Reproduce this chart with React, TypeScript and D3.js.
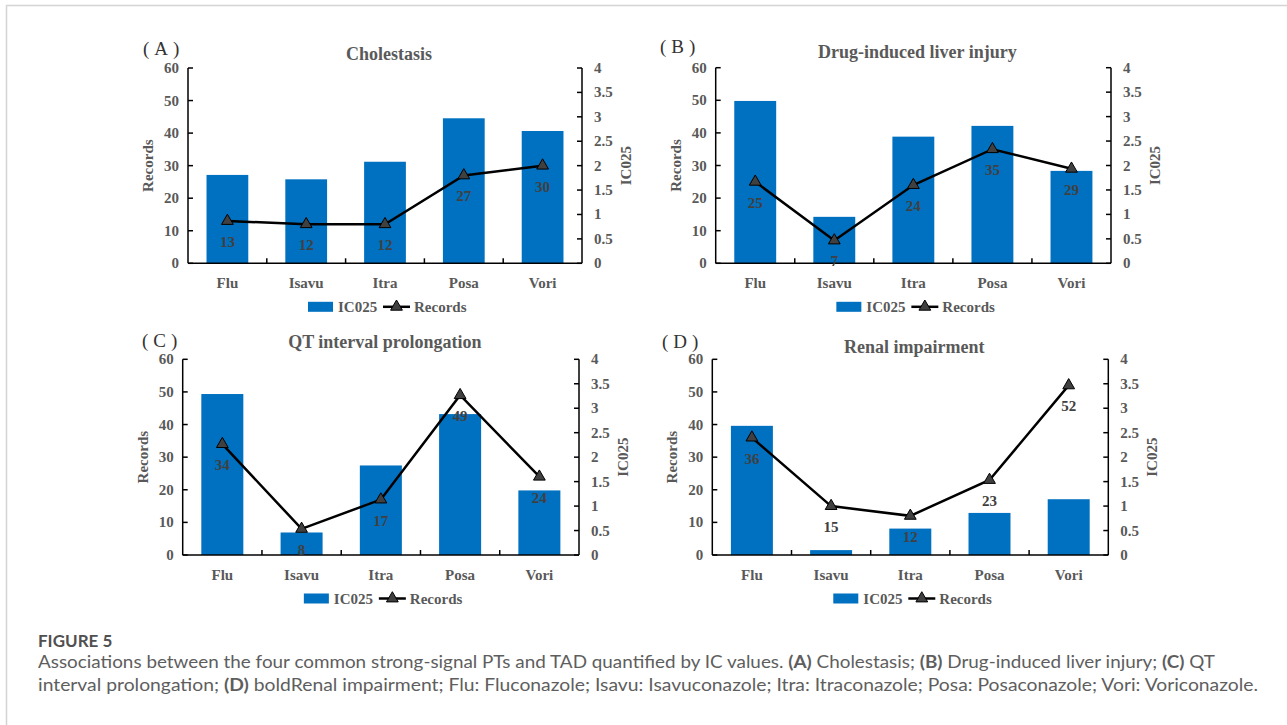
import React from 'react';
import * as d3 from 'd3';

// drugs on the x axis
const categories = ['Flu', 'Isavu', 'Itra', 'Posa', 'Vori'];

// IC025 (bars, right axis) and record counts (line, left axis) per panel
const icCholestasis = [1.81, 1.72, 2.08, 2.97, 2.71];
const recCholestasis = [13, 12, 12, 27, 30];
const icLiver = [3.32, 0.95, 2.59, 2.81, 1.89];
const recLiver = [25, 7, 24, 35, 29];
const icQt = [3.29, 0.46, 1.83, 2.88, 1.32];
const recQt = [34, 8, 17, 49, 24];
const icRenal = [2.64, 0.1, 0.54, 0.86, 1.14];
const recRenal = [36, 15, 12, 23, 52];

const panelLetters = ['A', 'B', 'C', 'D'];
const panelTitles = ['Cholestasis', 'Drug-induced liver injury', 'QT interval prolongation', 'Renal impairment'];

const recordTicks = [0, 10, 20, 30, 40, 50, 60];
const icTicks = [0, 0.5, 1, 1.5, 2, 2.5, 3, 3.5, 4];

const SERIF = "'Liberation Serif', 'Times New Roman', serif";
const GREY = '#595959';
const BLUE = '#0070C0';

const panels = [
  { ic: icCholestasis, rec: recCholestasis, left: 188, right: 582, top: 68, bottom: 263.3, titleY: 54, tagX: 143, tagY: 48 },
  { ic: icLiver, rec: recLiver, left: 715.7, right: 1111, top: 67.7, bottom: 263.3, titleY: 52, tagX: 660, tagY: 46 },
  { ic: icQt, rec: recQt, left: 182.7, right: 579, top: 359.3, bottom: 555, titleY: 342, tagX: 142, tagY: 340 },
  { ic: icRenal, rec: recRenal, left: 712.3, right: 1108.3, top: 359.3, bottom: 555, titleY: 347, tagX: 662, tagY: 341 },
];

const triangle = d3.symbol().type(d3.symbolTriangle).size(60);

function Panel({ p, idx }) {
  const x = d3.scaleBand().domain(categories).range([p.left, p.right]).paddingInner(0.47).paddingOuter(0.235);
  const yRec = d3.scaleLinear().domain([0, 60]).range([p.bottom, p.top]);
  const yIc = d3.scaleLinear().domain([0, 4]).range([p.bottom, p.top]);
  const cx = (c) => x(c) + x.bandwidth() / 2;
  const line = d3.line().x((d, i) => cx(categories[i])).y((d) => yRec(d));
  const mid = (p.left + p.right) / 2;
  const step = x.step();
  const boundaries = d3.range(1, categories.length).map((i) => p.left + step * i);

  return (
    <g>
      <text x={p.tagX} y={p.tagY} dominantBaseline="central" fontFamily={SERIF} fontSize={19} fill="#333">
        (<tspan dx={5}>{panelLetters[idx]}</tspan><tspan dx={5}>)</tspan>
      </text>
      <text x={mid + 4} y={p.titleY} dominantBaseline="central" textAnchor="middle" fontFamily={SERIF} fontWeight="bold" fontSize={18} fill={GREY}>
        {panelTitles[idx]}
      </text>

      {categories.map((c, i) => (
        <rect key={c} x={x(c)} y={yIc(p.ic[i])} width={x.bandwidth()} height={p.bottom - yIc(p.ic[i])} fill={BLUE} />
      ))}

      {/* axes */}
      <g stroke="#000" strokeWidth={1.5} fill="none">
        <line x1={p.left} x2={p.left} y1={p.top} y2={p.bottom} />
        <line x1={p.right} x2={p.right} y1={p.top} y2={p.bottom} />
        <line x1={p.left} x2={p.right} y1={p.bottom} y2={p.bottom} />
        {recordTicks.map((t) => (
          <line key={'l' + t} x1={p.left} x2={p.left + 5} y1={yRec(t)} y2={yRec(t)} />
        ))}
        {icTicks.map((t) => (
          <line key={'r' + t} x1={p.right - 5} x2={p.right} y1={yIc(t)} y2={yIc(t)} />
        ))}
        {boundaries.map((bx) => (
          <line key={'b' + bx} x1={bx} x2={bx} y1={p.bottom} y2={p.bottom - 5} />
        ))}
      </g>

      <g fontFamily={SERIF} fontWeight="bold" fontSize={15} fill={GREY}>
        {recordTicks.map((t) => (
          <text key={'lt' + t} x={p.left - 9} y={yRec(t)} textAnchor="end" dominantBaseline="central">{t}</text>
        ))}
        {icTicks.map((t) => (
          <text key={'rt' + t} x={p.right + 12} y={yIc(t)} dominantBaseline="central">{t}</text>
        ))}
        {categories.map((c) => (
          <text key={'xt' + c} x={cx(c)} y={p.bottom + 20} textAnchor="middle" dominantBaseline="central">{c}</text>
        ))}
        <text transform={`translate(${p.left - 40},${(p.top + p.bottom) / 2}) rotate(-90)`} textAnchor="middle" dominantBaseline="central">Records</text>
        <text transform={`translate(${p.right + 44},${(p.top + p.bottom) / 2}) rotate(-90)`} textAnchor="middle" dominantBaseline="central">IC025</text>
      </g>

      <path d={line(p.rec)} fill="none" stroke="#000" strokeWidth={2.5} />
      {p.rec.map((v, i) => (
        <path key={'m' + i} d={triangle()} transform={`translate(${cx(categories[i])},${yRec(v)})`} fill="#404040" stroke="#000" strokeWidth={1} />
      ))}
      {p.rec.map((v, i) => (
        <text key={'dl' + i} x={cx(categories[i])} y={yRec(v) + 21} textAnchor="middle" dominantBaseline="central" fontFamily={SERIF} fontWeight="bold" fontSize={15} fill="#404040">
          {v}
        </text>
      ))}

      {/* legend */}
      <g transform={`translate(${mid - 77},${p.bottom + 43.5})`} fontFamily={SERIF} fontWeight="bold" fontSize={15} fill={GREY}>
        <rect x={0} y={-5} width={25} height={10} fill={BLUE} />
        <text x={30} y={0} dominantBaseline="central">IC025</text>
        <line x1={75} x2={102} y1={0} y2={0} stroke="#000" strokeWidth={2.5} />
        <path d={triangle()} transform="translate(88.5,0)" fill="#404040" stroke="#000" strokeWidth={1} />
        <text x={106} y={0} dominantBaseline="central">Records</text>
      </g>
    </g>
  );
}

export default function App() {
  const sans = "Lato, 'Open Sans', sans-serif";
  return (
    <div style={{ position: 'absolute', left: 0, top: 0 }}>
      <svg width={1287} height={725} style={{ display: 'block', background: '#fff' }}>
        <rect x={6.5} y={5.5} width={1300} height={740} fill="none" stroke="#d4d4d4" strokeWidth={1.5} />
        {panels.map((p, i) => (
          <Panel key={i} p={p} idx={i} />
        ))}
        <text x={38} y={647} fontFamily={sans} fontWeight="bold" fontSize={17} fill="#505050">FIGURE 5</text>
        <text x={38} y={668} fontFamily={sans} fontSize={16.5} fill="#5e5e5e" textLength={1177} lengthAdjust="spacingAndGlyphs">
          Associations between the four common strong-signal PTs and TAD quantified by IC values.{' '}
          <tspan fontWeight="bold">(A)</tspan> Cholestasis; <tspan fontWeight="bold">(B)</tspan> Drug-induced liver injury;{' '}
          <tspan fontWeight="bold">(C)</tspan> QT
        </text>
        <text x={38} y={691} fontFamily={sans} fontSize={16.5} fill="#5e5e5e" textLength={1220} lengthAdjust="spacingAndGlyphs">
          interval prolongation; <tspan fontWeight="bold">(D)</tspan> boldRenal impairment; Flu: Fluconazole; Isavu: Isavuconazole;
          Itra: Itraconazole; Posa: Posaconazole; Vori: Voriconazole.
        </text>
      </svg>
    </div>
  );
}
